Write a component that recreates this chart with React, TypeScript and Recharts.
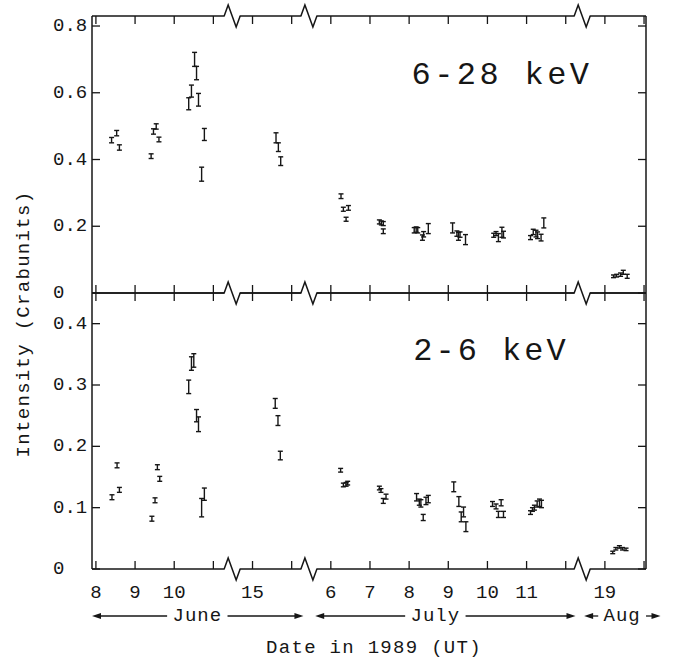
import { ScatterChart, Scatter, XAxis, YAxis, ErrorBar, ReferenceLine, ReferenceDot } from 'recharts';

const FONT = '"Liberation Mono", "DejaVu Sans Mono", monospace';
const INK = '#161616';

// x is a compressed day scale: 0 = 8 June, one unit per day, with breaks in the axis
const dayTicks = [0, 1, 2, 3, 4, 5, 6, 7, 8, 9, 10, 11, 12, 13, 14];
const dayLabels = ['8', '9', '10', '', '15', '', '6', '7', '8', '9', '10', '11', '', '19', ''];
const breakPos = [3.48, 5.44, 12.42];

const monthNames = ['June', 'July', 'Aug'];
const monthStart = [-0.1, 5.6, 12.47];
const monthEnd = [5.3, 12.25, 14.42];
const monthLabelAt = [2.59, 8.67, 13.44];

// 6-28 keV
const hardX = [
  0.4, 0.53, 0.6, 1.41, 1.47, 1.54, 1.61,
  2.37, 2.44, 2.52, 2.57, 2.62, 2.7, 2.77,
  4.6, 4.66, 4.72,
  6.26, 6.32, 6.39, 6.45,
  7.24, 7.29, 7.34, 7.34,
  8.13, 8.18, 8.22, 8.34, 8.37, 8.49,
  9.11, 9.22, 9.26, 9.3, 9.44,
  10.16, 10.22, 10.28, 10.37, 10.41,
  11.1, 11.17, 11.24, 11.28, 11.37, 11.44,
  13.22, 13.3, 13.4, 13.47, 13.57,
];
const hardY = [
  0.458, 0.479, 0.436, 0.41, 0.484, 0.499, 0.46,
  0.567, 0.605, 0.7, 0.659, 0.579, 0.356, 0.475,
  0.465, 0.437, 0.395,
  0.29, 0.251, 0.221, 0.255,
  0.213, 0.21, 0.208, 0.185,
  0.188, 0.19, 0.188, 0.166, 0.176, 0.193,
  0.195, 0.178, 0.17, 0.175, 0.16,
  0.173, 0.178, 0.166, 0.182, 0.175,
  0.166, 0.183, 0.178, 0.173, 0.166, 0.21,
  0.05, 0.052, 0.055, 0.062, 0.05,
];
const hardErr = [
  0.008, 0.008, 0.008, 0.007, 0.008, 0.008, 0.007,
  0.018, 0.018, 0.021, 0.02, 0.019, 0.021, 0.018,
  0.015, 0.013, 0.013,
  0.007, 0.006, 0.006, 0.007,
  0.006, 0.006, 0.006, 0.007,
  0.008, 0.008, 0.008, 0.008, 0.008, 0.015,
  0.015, 0.008, 0.012, 0.008, 0.015,
  0.006, 0.006, 0.012, 0.015, 0.01,
  0.006, 0.008, 0.01, 0.01, 0.01, 0.015,
  0.004, 0.004, 0.005, 0.006, 0.006,
];

// 2-6 keV
const softX = [
  0.41, 0.54, 0.6, 1.43, 1.51, 1.57, 1.63,
  2.37, 2.44, 2.5, 2.57, 2.62, 2.7, 2.77,
  4.58, 4.65, 4.71,
  6.25, 6.32, 6.39, 6.43,
  7.24, 7.28, 7.34, 7.41,
  8.19, 8.26, 8.3, 8.36, 8.43, 8.49,
  9.14, 9.27, 9.33, 9.39, 9.45,
  10.13, 10.22, 10.28, 10.35, 10.41,
  11.1, 11.15, 11.2, 11.27, 11.33, 11.38,
  13.2, 13.28, 13.37, 13.45, 13.54,
];
const softY = [
  0.117, 0.169, 0.129, 0.082, 0.112, 0.166, 0.147,
  0.297, 0.335, 0.34, 0.25, 0.236, 0.1, 0.122,
  0.27, 0.242, 0.185,
  0.161, 0.137, 0.138, 0.14,
  0.132, 0.128, 0.111, 0.118,
  0.117, 0.109, 0.107, 0.084, 0.111, 0.114,
  0.134, 0.11, 0.085, 0.093, 0.069,
  0.106, 0.102, 0.089, 0.108, 0.089,
  0.092, 0.097, 0.1, 0.106, 0.108, 0.106,
  0.027, 0.033, 0.036, 0.033, 0.032,
];
const softErr = [
  0.004, 0.004, 0.004, 0.004, 0.004, 0.004, 0.004,
  0.011, 0.011, 0.011, 0.01, 0.012, 0.015, 0.01,
  0.008, 0.008, 0.007,
  0.003, 0.003, 0.003, 0.003,
  0.003, 0.003, 0.004, 0.004,
  0.006, 0.005, 0.006, 0.005, 0.006, 0.006,
  0.008, 0.008, 0.008, 0.008, 0.008,
  0.004, 0.004, 0.005, 0.005, 0.005,
  0.003, 0.003, 0.004, 0.005, 0.006, 0.006,
  0.002, 0.002, 0.002, 0.002, 0.002,
];

const hardTicks = [0, 0.2, 0.4, 0.6, 0.8];
const softTicks = [0, 0.1, 0.2, 0.3, 0.4];

const X_DOMAIN: [number, number] = [-0.1, 14.05];
const HARD_MAX = 0.83;
const SOFT_MAX = 0.45;

const W = 676;
const M_LEFT = 52;
const M_RIGHT = 30;
const Y_W = 40;
const PLOT_W = W - M_LEFT - M_RIGHT - Y_W;
const TOP_H = 310;
const TOP_PLOT_H = 277;
const BOT_TOP = 270;
const BOT_H = 392;

const rows = (xs: number[], ys: number[], es: number[]) =>
  xs.map((x, i) => ({ x, y: ys[i], err: es[i] }));

const fmtY = (v: number) => (v === 0 ? '0' : v.toFixed(1));

const YTick = (props: any) => {
  const { x, y, payload } = props;
  return (
    <g>
      <line x1={x} x2={x + 8} y1={y} y2={y} stroke={INK} strokeWidth={1.3} />
      <line x1={x + PLOT_W - 8} x2={x + PLOT_W} y1={y} y2={y} stroke={INK} strokeWidth={1.3} />
      <text x={x - 39} y={y} dominantBaseline="central" fontFamily={FONT} fontSize={19} fill={INK}>
        {fmtY(payload.value)}
      </text>
    </g>
  );
};

// top panel: ticks crossing the shared line and ticks hanging from the top edge
const TopXTick = (props: any) => {
  const { x, y } = props;
  return (
    <g>
      <line x1={x} x2={x} y1={y - 8} y2={y + 8} stroke={INK} strokeWidth={1.3} />
      <line x1={x} x2={x} y1={y - TOP_PLOT_H} y2={y - TOP_PLOT_H + 8} stroke={INK} strokeWidth={1.3} />
    </g>
  );
};

const BottomXTick = (props: any) => {
  const { x, y, index } = props;
  return (
    <g>
      <line x1={x} x2={x} y1={y - 8} y2={y} stroke={INK} strokeWidth={1.3} />
      <text x={x} y={y + 24} textAnchor="middle" dominantBaseline="central" fontFamily={FONT} fontSize={19} fill={INK}>
        {dayLabels[index]}
      </text>
    </g>
  );
};

const BreakMark = (props: any) => {
  const { cx, cy } = props;
  return (
    <g>
      <rect x={cx - 7.5} y={cy - 2.5} width={15} height={5} fill="#fff" />
      <polyline
        points={`${cx - 8},${cy} ${cx - 4},${cy - 11} ${cx + 4},${cy + 11} ${cx + 8},${cy}`}
        fill="none"
        stroke={INK}
        strokeWidth={1.5}
        strokeLinejoin="miter"
      />
    </g>
  );
};

const monthArrow = (i: number) => (props: any) => {
  const { x1, x2, y1 } = props;
  const y = y1 + 47;
  const name = monthNames[i];
  const frac = (monthLabelAt[i] - monthStart[i]) / (monthEnd[i] - monthStart[i]);
  const cx = x1 + (x2 - x1) * frac;
  const half = name.length * 6.3 + 5;
  return (
    <g>
      <line x1={x1 + 6} x2={cx - half} y1={y} y2={y} stroke={INK} strokeWidth={1.3} />
      <polygon points={`${x1},${y} ${x1 + 9},${y - 3} ${x1 + 9},${y + 3}`} fill={INK} />
      <line x1={cx + half} x2={x2 - 6} y1={y} y2={y} stroke={INK} strokeWidth={1.3} />
      <polygon points={`${x2},${y} ${x2 - 9},${y - 3} ${x2 - 9},${y + 3}`} fill={INK} />
      <text x={cx} y={y} textAnchor="middle" dominantBaseline="central" fontFamily={FONT} fontSize={19} letterSpacing={1} fill={INK}>
        {name}
      </text>
    </g>
  );
};

const Panel = ({
  data,
  yMax,
  yTicks,
  height,
  margin,
  bottom,
}: {
  data: { x: number; y: number; err: number }[];
  yMax: number;
  yTicks: number[];
  height: number;
  margin: { top: number; right: number; bottom: number; left: number };
  bottom: boolean;
}) => (
  <ScatterChart width={W} height={height} margin={margin}>
    <XAxis
      type="number"
      dataKey="x"
      domain={X_DOMAIN}
      ticks={dayTicks}
      interval={0}
      allowDataOverflow
      height={bottom ? 35 : 7}
      tickSize={0}
      tickMargin={0}
      tickLine={false}
      axisLine={{ stroke: INK, strokeWidth: 1.5 }}
      tick={bottom ? <BottomXTick /> : <TopXTick />}
    />
    <YAxis
      type="number"
      dataKey="y"
      domain={[0, yMax]}
      ticks={yTicks}
      interval={0}
      allowDataOverflow
      width={Y_W}
      tickSize={0}
      tickMargin={0}
      tickLine={false}
      axisLine={{ stroke: INK, strokeWidth: 1.5 }}
      tick={<YTick />}
    />
    <ReferenceLine x={X_DOMAIN[1]} stroke={INK} strokeWidth={1.5} />
    <ReferenceLine y={yMax} stroke={INK} strokeWidth={1.5} />
    <Scatter data={data} isAnimationActive={false} shape={() => <g />}>
      <ErrorBar dataKey="err" direction="y" width={2.5} stroke={INK} strokeWidth={1.4} isAnimationActive={false} />
    </Scatter>
    {breakPos.map((b) => (
      <ReferenceDot key={`t${b}`} x={b} y={yMax} r={0} ifOverflow="visible" shape={<BreakMark />} />
    ))}
    {bottom &&
      breakPos.map((b) => (
        <ReferenceDot key={`b${b}`} x={b} y={0} r={0} ifOverflow="visible" shape={<BreakMark />} />
      ))}
    {bottom &&
      monthNames.map((m, i) => (
        <ReferenceLine
          key={m}
          segment={[
            { x: monthStart[i], y: 0 },
            { x: monthEnd[i], y: 0 },
          ]}
          ifOverflow="visible"
          shape={monthArrow(i)}
        />
      ))}
  </ScatterChart>
);

const textStyle = {
  position: 'absolute' as const,
  fontFamily: FONT,
  color: INK,
  whiteSpace: 'nowrap' as const,
  lineHeight: 1,
  transform: 'translate(-50%, -50%)',
};

export default function App() {
  return (
    <div style={{ position: 'absolute', left: 0, top: 0, width: W, height: 662, background: '#fff' }}>
      <div style={{ position: 'absolute', left: 0, top: 0 }}>
        <Panel
          data={rows(hardX, hardY, hardErr)}
          yMax={HARD_MAX}
          yTicks={hardTicks}
          height={TOP_H}
          margin={{ top: 16, right: M_RIGHT, bottom: 10, left: M_LEFT }}
          bottom={false}
        />
      </div>
      <div style={{ position: 'absolute', left: 0, top: BOT_TOP }}>
        <Panel
          data={rows(softX, softY, softErr)}
          yMax={SOFT_MAX}
          yTicks={softTicks}
          height={BOT_H}
          margin={{ top: 23, right: M_RIGHT, bottom: 58, left: M_LEFT }}
          bottom
        />
      </div>
      <div style={{ ...textStyle, left: 502, top: 76, fontSize: 32, letterSpacing: 3.4 }}>6-28 keV</div>
      <div style={{ ...textStyle, left: 491, top: 352, fontSize: 32, letterSpacing: 3 }}>2-6 keV</div>
      <div
        style={{
          ...textStyle,
          left: 24,
          top: 324,
          fontSize: 19,
          letterSpacing: 1.3,
          transform: 'translate(-50%, -50%) rotate(-90deg)',
        }}
      >
        Intensity (Crabunits)
      </div>
      <div style={{ ...textStyle, left: 374, top: 648, fontSize: 19, letterSpacing: 1.3 }}>Date in 1989 (UT)</div>
    </div>
  );
}
